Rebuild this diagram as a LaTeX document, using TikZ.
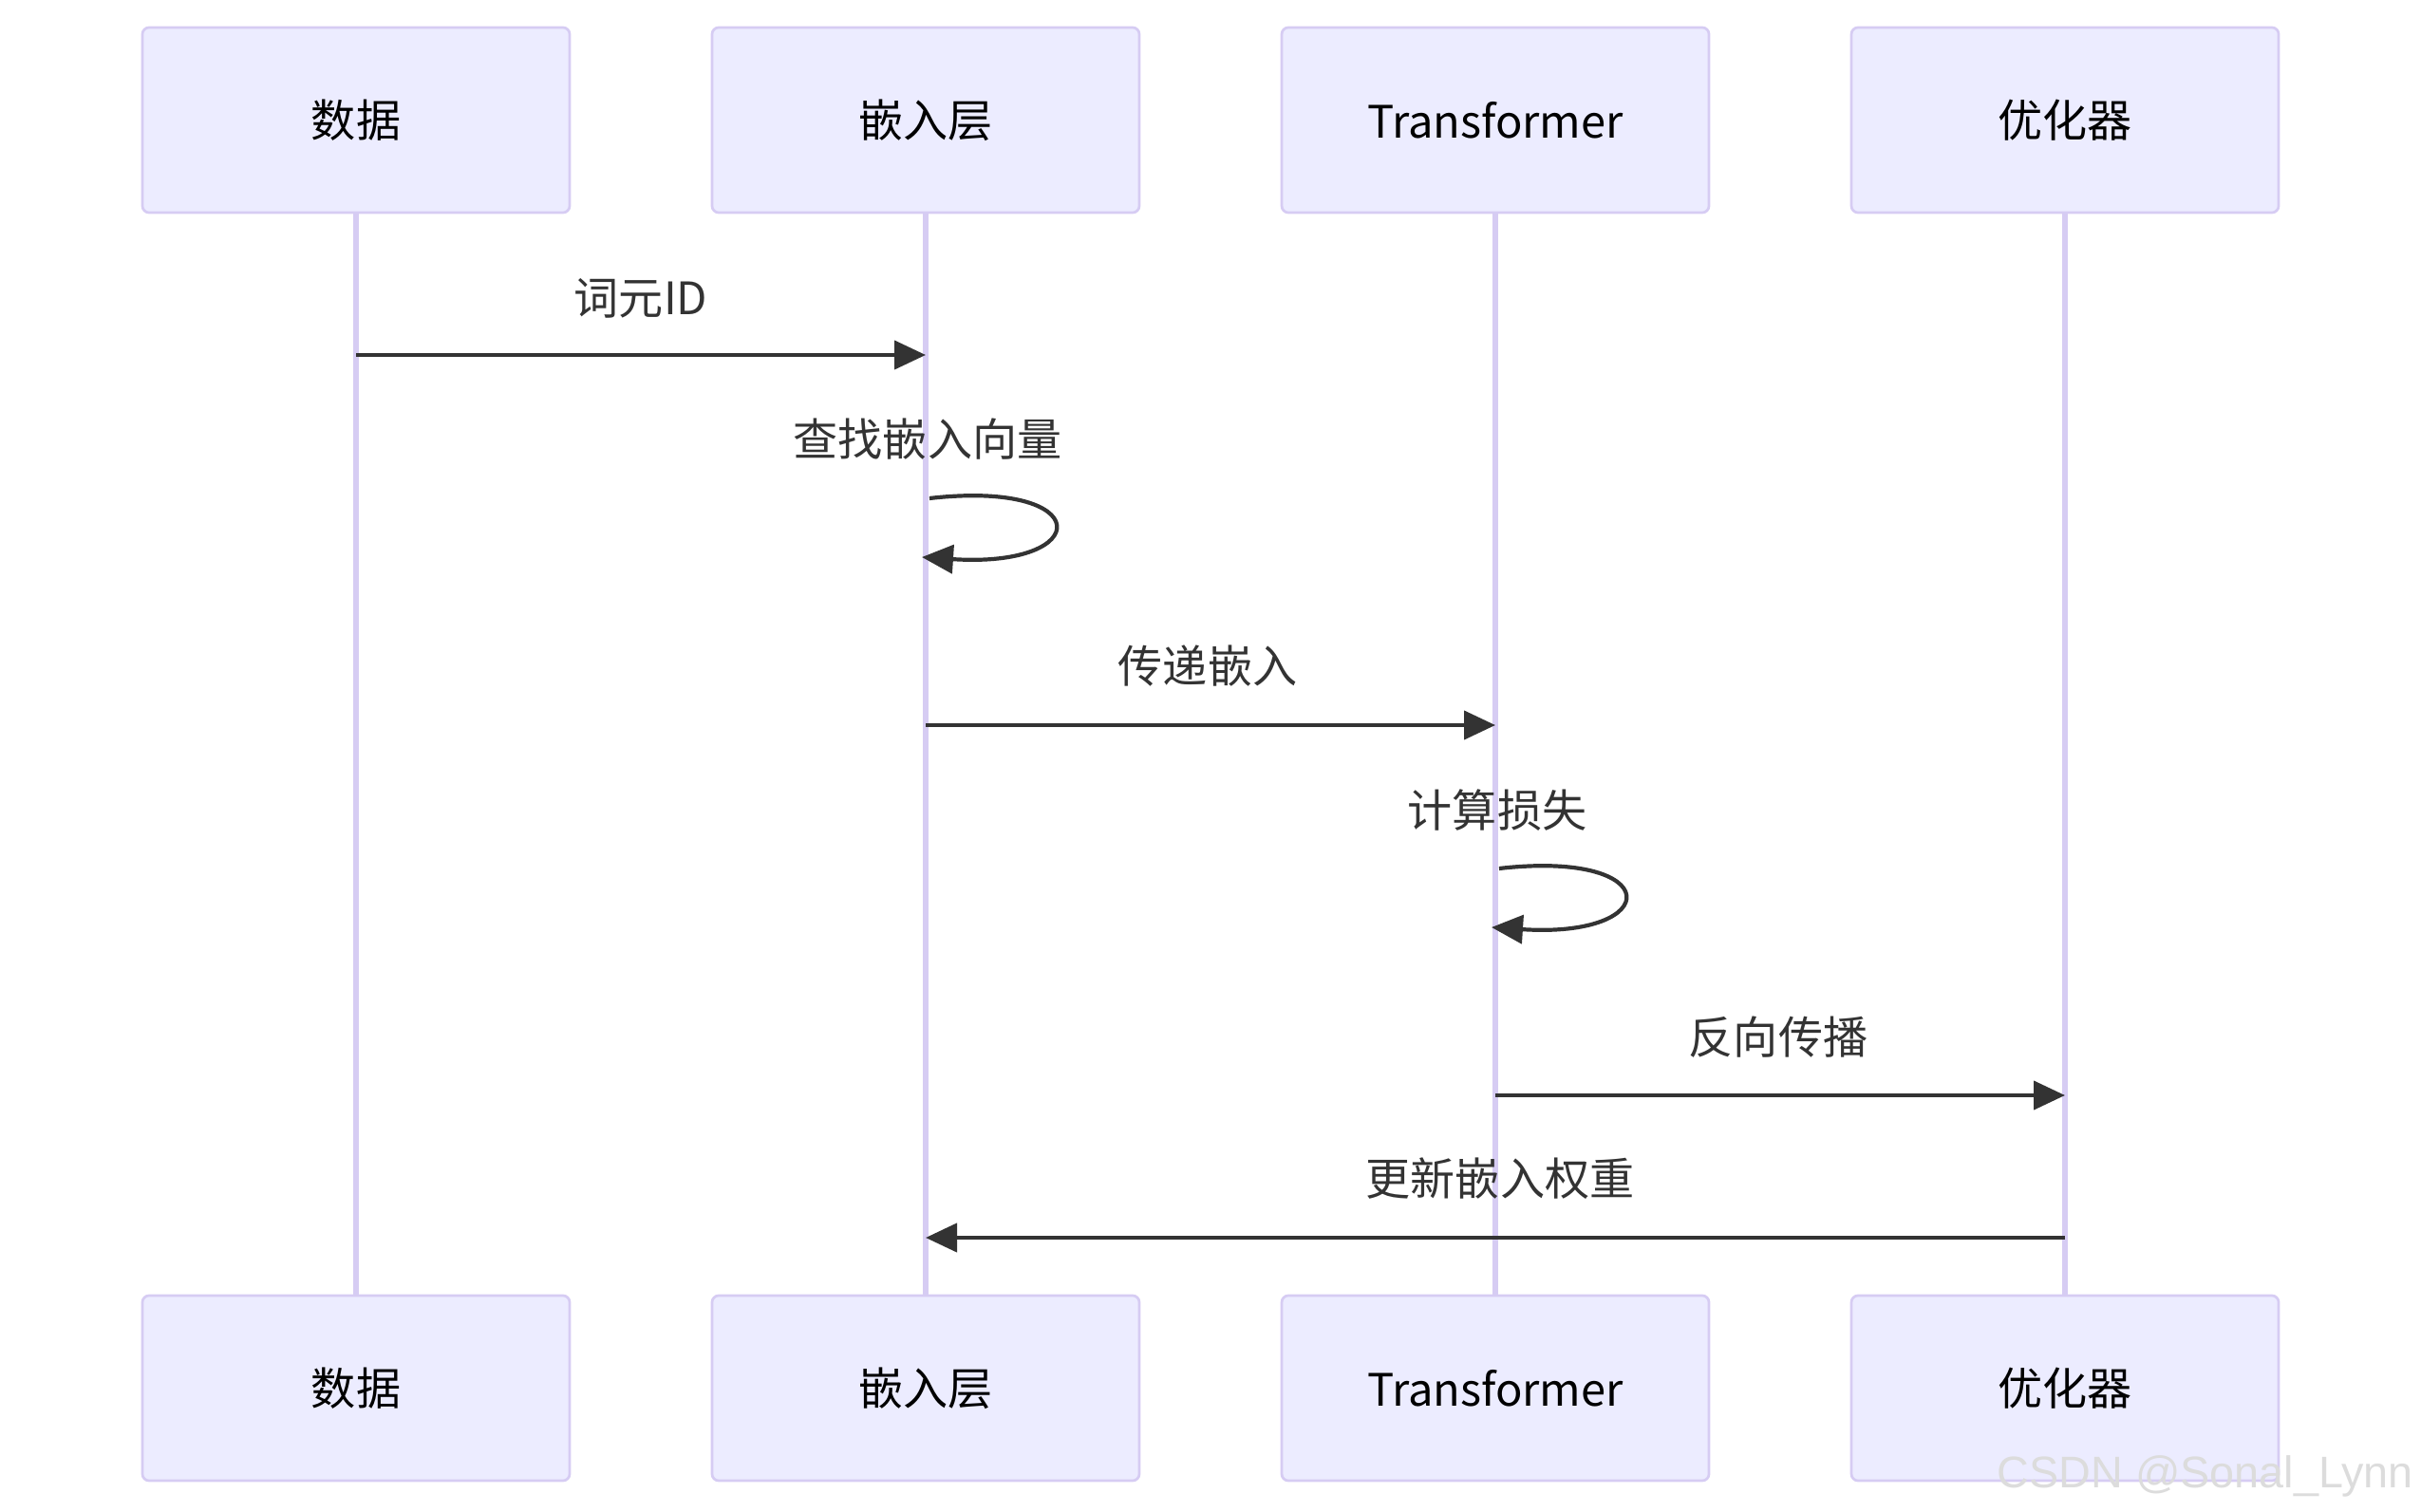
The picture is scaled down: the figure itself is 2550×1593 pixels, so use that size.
\documentclass[tikz,border=0pt]{standalone}
\usepackage{fontspec}
\usepackage{tikz}
\usetikzlibrary{arrows.meta,calc,positioning}
\newfontfamily\cjk{Noto Sans CJK SC}
\newfontfamily\markfont{Liberation Sans}
\definecolor{SQfill}{HTML}{ECECFF}
\definecolor{SQedge}{HTML}{D6CCF3}
\definecolor{SQink}{HTML}{333333}
\definecolor{SQmark}{HTML}{DCDCDC}

\begin{document}
\begin{tikzpicture}[
  x=0.1mm,y=-0.1mm,
  font=\cjk\fontsize{13.4}{16}\selectfont,
  line cap=butt,line join=round,
  actor/.style={draw=SQedge,line width=0.27mm,fill=SQfill,rounded corners=0.7mm,
    minimum width=45mm,minimum height=19.5mm,inner sep=0pt,text=black},
  lifeline/.style={draw=SQedge,line width=0.55mm},
  msg/.style={draw=SQink,line width=0.42mm,-{Triangle[length=3.3mm,width=3.0mm]}},
  msglabel/.style={text=SQink,inner sep=0pt},
  watermark/.style={font=\markfont\fontsize{13.3}{16}\selectfont,text=SQmark,inner sep=0pt}
]

% pixel grid of the reference, y running down
\useasboundingbox (0,0) rectangle (2550,1593);

% participants, top and bottom, with their lifelines
\foreach \id/\xx/\txt in {data/375/数据,embed/975/嵌入层,trans/1575/Transformer,optim/2175/优化器}{
  \node[actor] (\id-top) at (\xx,126.5) {\txt};
  \node[actor] (\id-bot) at (\xx,1462.5) {\txt};
  \draw[lifeline] (\id-top.south) -- (\id-bot.north);
}

% message rows
\coordinate (r1) at (0,374);
\coordinate (r2) at (0,525);
\coordinate (r3) at (0,764);
\coordinate (r4) at (0,915);
\coordinate (r5) at (0,1154);
\coordinate (r6) at (0,1304);

\node[msglabel] (l1) at (675,314) {词元ID};
\draw[msg] (data-top |- r1) -- (embed-top |- r1);

\node[msglabel] (l2) at (977,463) {查找嵌入向量};
\draw[msg] ($(embed-top |- r2)+(4,0)$) .. controls +(176,-20) and +(182,12) .. ($(embed-top |- r2)+(-4,62)$);

\node[msglabel] (l3) at (1272,702) {传递嵌入};
\draw[msg] (embed-top |- r3) -- (trans-top |- r3);

\node[msglabel] (l4) at (1577,854) {计算损失};
\draw[msg] ($(trans-top |- r4)+(4,0)$) .. controls +(176,-20) and +(182,12) .. ($(trans-top |- r4)+(-4,62)$);

\node[msglabel] (l5) at (1873,1093) {反向传播};
\draw[msg] (trans-top |- r5) -- (optim-top |- r5);

\node[msglabel] (l6) at (1580,1242) {更新嵌入权重};
\draw[msg] (optim-top |- r6) -- (embed-top |- r6);

\node[watermark,anchor=base west] (mark) at (2103,1567) {CSDN @Sonal\_Lynn};

\end{tikzpicture}
\end{document}
